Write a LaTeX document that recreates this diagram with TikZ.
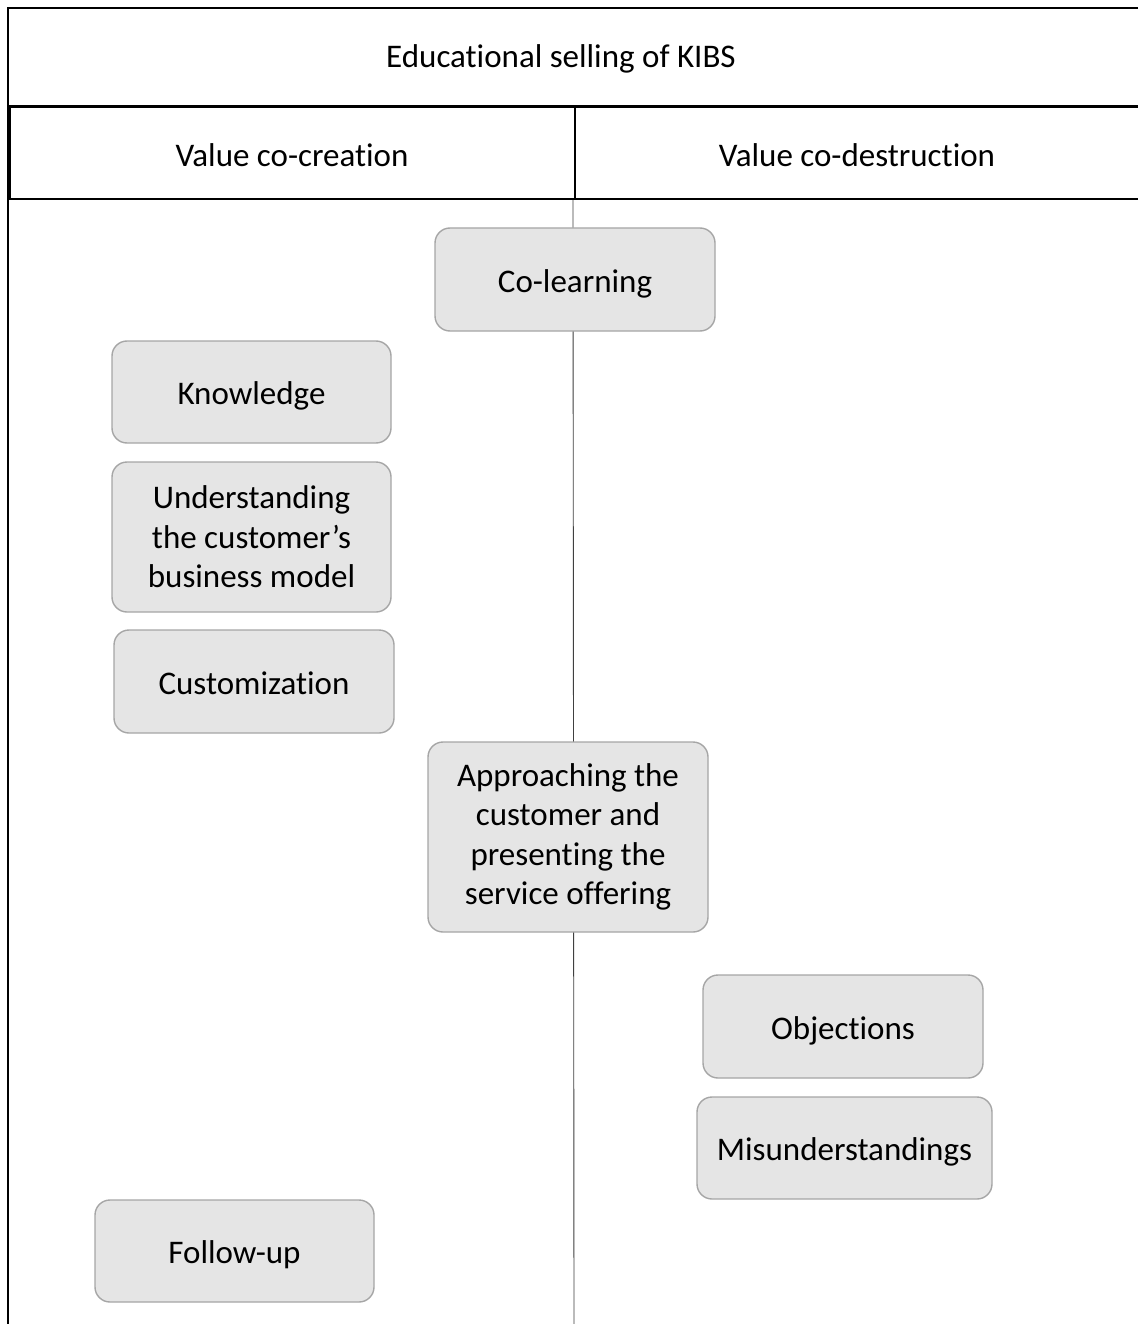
\documentclass[tikz,border=0pt]{standalone}
\usepackage{fontspec}
\setmainfont{Carlito}[RawFeature={-liga;-clig;-dlig;-calt}]
\begin{document}
\begin{tikzpicture}[x=1pt,y=-1pt,
  every node/.style={font=\fontsize{33}{39.5}\selectfont, text=black},
  frame/.style={draw=black, line width=1.6pt},
  divider/.style={draw=black!75, line width=0.9pt},
  itembox/.style={draw=black!35, line width=1.4pt, fill=black!10,
    rounded corners=15pt, align=center, inner sep=0pt},
  oneline/.style={text height=25pt, text depth=0pt},
]
% canvas
\useasboundingbox (0,0) rectangle (1138,1324);
\fill[white] (0,0) rectangle (1138,1324);

% column divider running down the body
\coordinate (divtop) at (573,199);
\coordinate (divbot) at (574,1324);
\draw[divider] (divtop) -- (divbot);

% title row and outer frame
\draw[frame] (1138,8) -- (8,8) -- (8,1324);
\draw[frame] (8,106) -- (1138,106);
\node[oneline] (title) at (561,55.5) {Educational selling of KIBS};

% column headers
\draw[frame] (10,107) rectangle (575,199);
\draw[frame] (575,107) -- (1138,107) (575,199) -- (1138,199);
\node[oneline] (cocreate) at (292,154) {Value co-creation};
\node[oneline] (codestroy) at (857,154) {Value co-destruction};

% activities
\node[itembox, oneline, minimum width=280pt, minimum height=103pt] (colearn) at (575,279.5) {Co-learning};
\node[itembox, oneline, minimum width=279pt, minimum height=102pt] (know) at (251.5,392) {Knowledge};
\node[itembox, minimum width=279pt, minimum height=150pt] (underst) at (251.5,537) {Understanding\\the customer’s\\business model};
\node[itembox, oneline, minimum width=280pt, minimum height=103pt] (custom) at (254,681.5) {Customization};
\node[itembox, minimum width=280pt, minimum height=190pt] (approach) at (568,837) {Approaching the\\customer and\\presenting the\\service offering};
\node[itembox, oneline, minimum width=280pt, minimum height=103pt] (object) at (843,1026.5) {Objections};
\node[itembox, oneline, minimum width=295pt, minimum height=102pt] (misund) at (844.5,1148) {Misunderstandings};
\node[itembox, oneline, minimum width=279pt, minimum height=102pt] (follow) at (234.5,1251) {Follow-up};
\end{tikzpicture}
\end{document}
